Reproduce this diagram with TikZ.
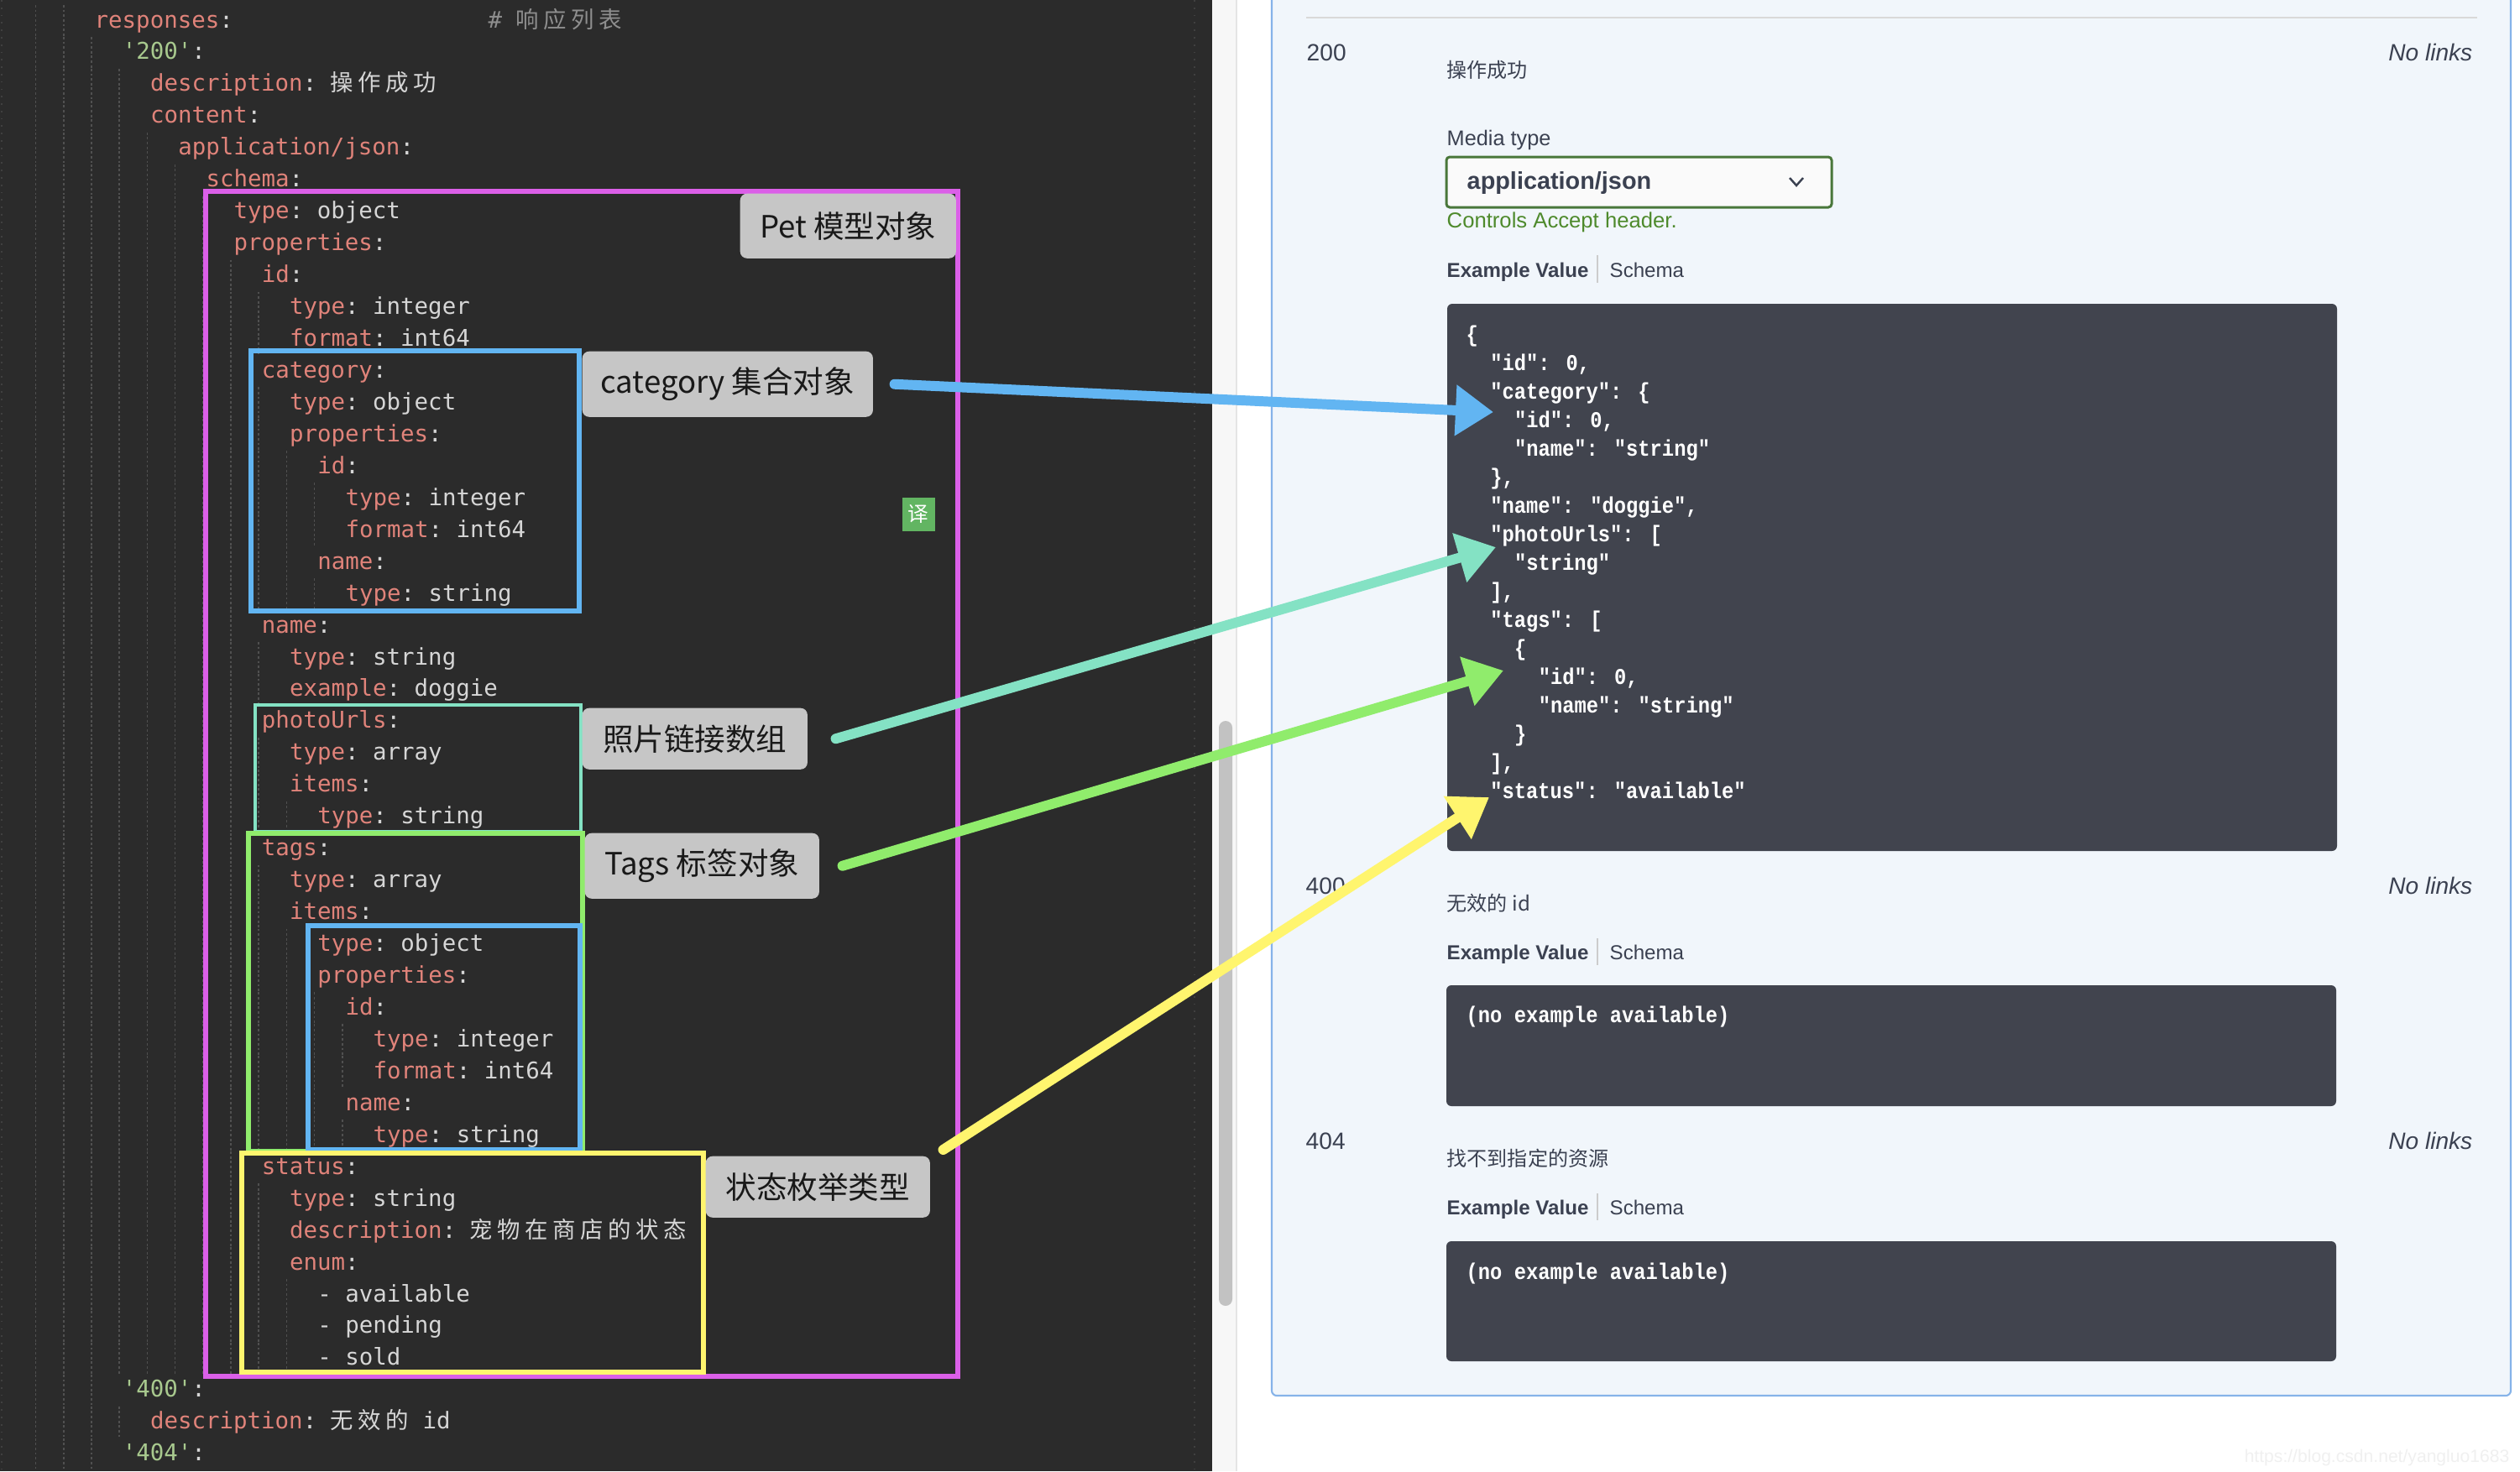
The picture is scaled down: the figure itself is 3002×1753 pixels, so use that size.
\documentclass[tikz,border=0pt]{standalone}
\usepackage{fontspec}
\setmonofont{DejaVu Sans Mono}
\newfontfamily\cjk{Noto Sans CJK SC}
\newfontfamily\cjkcode[LetterSpace=20]{Noto Sans CJK SC}
\newfontfamily\uifont{Liberation Sans}
\newfontfamily\jsonfont[FakeStretch=0.88]{Liberation Mono}
\usetikzlibrary{arrows.meta}

\definecolor{codebg}{HTML}{2B2B2B}
\definecolor{codekey}{HTML}{E0837A}
\definecolor{codeval}{HTML}{D6D6D6}
\definecolor{codestr}{HTML}{A8C98E}
\definecolor{codecmt}{HTML}{8E8E8E}
\definecolor{codeguide}{HTML}{505050}
\definecolor{petpink}{HTML}{DB5FE8}
\definecolor{catblue}{HTML}{62B5F2}
\definecolor{photomint}{HTML}{84E2C4}
\definecolor{tagsgreen}{HTML}{90EC6C}
\definecolor{statusyellow}{HTML}{FFF56E}
\definecolor{notefill}{HTML}{C6C6C6}
\definecolor{panelbg}{HTML}{F1F6FB}
\definecolor{panelline}{HTML}{86B3E9}
\definecolor{uitext}{HTML}{3B4151}
\definecolor{jsonbg}{HTML}{41444E}
\definecolor{dropgreen}{HTML}{49773A}
\definecolor{acceptgreen}{HTML}{4E8A2C}
\definecolor{fanyigreen}{HTML}{62B562}

\newcommand\yk[1]{\textcolor{codekey}{#1}:}

\begin{document}
\begin{tikzpicture}[
 x=0.01cm, y=-0.01cm,
 code/.style={font=\ttfamily\fontsize{7.8pt}{9pt}\selectfont,text=codeval,inner sep=0pt,anchor=base west},
 guide/.style={draw=codeguide,line width=0.4pt,dash pattern=on 0.8pt off 0.8pt},
 hilite/.style={line width=1.7pt},
 note/.style={fill=notefill,rounded corners=0.08cm,text=black!90,font=\cjk\fontsize{10.4pt}{12pt}\selectfont,inner sep=0pt,anchor=north west},
 ui/.style={font={\uifont\fontsize{#1}{10pt}\selectfont},text=uitext,inner sep=0pt,anchor=base west},
 ui/.default=7.2pt,
 cjkui/.style={font={\cjk\fontsize{6.85pt}{8pt}\selectfont},text=uitext,inner sep=0pt,anchor=base west},
 json/.style={font=\jsonfont\bfseries\fontsize{7.68pt}{9pt}\selectfont,text=white,inner sep=0pt,anchor=base west},
 jsonbox/.style={fill=jsonbg,rounded corners=0.06cm},
 pointer/.style={line width=3.4pt,line cap=round,-{Triangle[length=12.8pt,width=16.5pt]}}
]
\useasboundingbox (0,0) rectangle (3002,1753);
\clip (0,0) rectangle (3002,1753);
\fill[white] (0,0) rectangle (3002,1753);

% editor
\fill[codebg] (0,0) rectangle (1444,1753);
\draw[black!75,dotted,line width=0.5pt] (2,0) -- (2,1753);
\draw[black!75,dotted,line width=0.5pt] (1423,0) -- (1423,1753);
\foreach \n/\lv/\txt in {
 0/0/{\yk{responses}},
 1/1/{\textcolor{codestr}{'200'}:},
 2/2/{\yk{description} {\cjkcode 操作成功}},
 3/2/{\yk{content}},
 4/3/{\yk{application/json}},
 5/4/{\yk{schema}},
 6/5/{\yk{type} object},
 7/5/{\yk{properties}},
 8/6/{\yk{id}},
 9/7/{\yk{type} integer},
 10/7/{\yk{format} int64},
 11/6/{\yk{category}},
 12/7/{\yk{type} object},
 13/7/{\yk{properties}},
 14/8/{\yk{id}},
 15/9/{\yk{type} integer},
 16/9/{\yk{format} int64},
 17/8/{\yk{name}},
 18/9/{\yk{type} string},
 19/6/{\yk{name}},
 20/7/{\yk{type} string},
 21/7/{\yk{example} doggie},
 22/6/{\yk{photoUrls}},
 23/7/{\yk{type} array},
 24/7/{\yk{items}},
 25/8/{\yk{type} string},
 26/6/{\yk{tags}},
 27/7/{\yk{type} array},
 28/7/{\yk{items}},
 29/8/{\yk{type} object},
 30/8/{\yk{properties}},
 31/9/{\yk{id}},
 32/10/{\yk{type} integer},
 33/10/{\yk{format} int64},
 34/9/{\yk{name}},
 35/10/{\yk{type} string},
 36/6/{\yk{status}},
 37/7/{\yk{type} string},
 38/7/{\yk{description} {\cjkcode 宠物在商店的状态}},
 39/7/{\yk{enum}},
 40/8/{- available},
 41/8/{- pending},
 42/8/{- sold},
 43/1/{\textcolor{codestr}{'400'}:},
 44/2/{\yk{description} {\cjkcode 无效的}\ id},
 45/1/{\textcolor{codestr}{'404'}:}}
{
 \node (code-\n) [code] at ({112+33.2*\lv},{33+37.95*\n}) {\txt};
 \pgfmathtruncatemacro\last{\lv-1}
 \foreach \k in {-2,...,\last}
  \draw[guide] ({109+33.2*\k},{6+37.95*\n}) -- ++(0,38);
}
\node (code-comment) [code,text=codecmt] at (581,33) {\# {\cjkcode 响应列表}};
\node (fanyi-icon) [fill=fanyigreen,text=white,font=\cjk\fontsize{7pt}{8pt}\selectfont,minimum width=0.39cm,minimum height=0.4cm,inner sep=0pt,anchor=north west] at (1074,592) {译};

% highlight frames
\draw[hilite,petpink] (245,228) rectangle (1141,1640);
\draw[hilite,catblue] (299,418) rectangle (690,728);
\draw[line width=1.1pt,photomint] (304,840) rectangle (692,991);
\draw[hilite,tagsgreen] (296,993) rectangle (694,1372);
\draw[hilite,catblue] (367,1103) rectangle (691,1370);
\draw[hilite,statusyellow] (288,1374) rectangle (838,1635);

\node (pet-label) [note,minimum width=2.57cm,minimum height=0.77cm] at (881,230) {Pet 模型对象};
\node (category-label) [note,minimum width=3.46cm,minimum height=0.78cm] at (693,418) {category 集合对象};
\node (photo-label) [note,minimum width=2.68cm,minimum height=0.73cm] at (693,843) {照片链接数组};
\node (tags-label) [note,minimum width=2.79cm,minimum height=0.78cm] at (696,992) {Tags 标签对象};
\node (status-label) [note,minimum width=2.67cm,minimum height=0.73cm] at (840,1377) {状态枚举类型};

% scroll bar
\fill[black!3] (1444,0) rectangle (1473,1753);
\draw[black!10,line width=0.6pt] (1473,0) -- (1473,1753);
\fill[black!24,rounded corners=0.08cm] (1452,859) rectangle (1468,1556);

% responses panel
\draw[fill=panelbg,draw=panelline,line width=0.6pt,rounded corners=0.06cm] (1515,-40) rectangle (2991,1663);
\draw[black!15,line width=0.6pt] (1556,21) -- (2951,21);

\node (ok-code) [ui=8pt] at (1556,72) {200};
\node (ok-links) [ui=8pt,anchor=base east] at (2946,72) {\itshape No links};
\node (ok-desc) [cjkui] at (1723,92) {操作成功};
\node (media-type) [ui] at (1723,173) {Media type};
\draw[dropgreen,fill=black!2,line width=0.85pt,rounded corners=0.04cm] (1723,187) rectangle (2182,247);
\node (media-select) [ui=8.2pt] at (1747,225) {\bfseries application/json};
\draw[uitext,line width=0.7pt] (2132,212) -- (2140,221) -- (2148,212);
\node (accept-note) [ui=7.3pt,text=acceptgreen] at (1723,271) {Controls Accept header.};
\node (ok-example) [ui=6.85pt] at (1723,330) {\bfseries Example Value};
\draw[black!20,line width=0.4pt] (1903,304) -- (1903,337);
\node (ok-schema) [ui=6.85pt] at (1917,330) {Schema};

\fill[jsonbox] (1724,362) rectangle (2784,1014);
\foreach \k/\lv/\txt in {
 0/0/{\{},
 1/1/{"id": 0,},
 2/1/{"category": \{},
 3/2/{"id": 0,},
 4/2/{"name": "string"},
 5/1/{\},},
 6/1/{"name": "doggie",},
 7/1/{"photoUrls": [},
 8/2/{"string"},
 9/1/{],},
 10/1/{"tags": [},
 11/2/{\{},
 12/3/{"id": 0,},
 13/3/{"name": "string"},
 14/2/{\}},
 15/1/{],},
 16/1/{"status": "available"}}
 \node (json-\k) [json] at ({1746+28.7*\lv},{407+34*\k}) {\txt};

\node (bad-code) [ui=8pt] at (1555,1065) {400};
\node (bad-links) [ui=8pt,anchor=base east] at (2946,1065) {\itshape No links};
\node (bad-desc) [cjkui] at (1723,1085) {无效的 id};
\node (bad-example) [ui=6.85pt] at (1723,1143) {\bfseries Example Value};
\draw[black!20,line width=0.4pt] (1903,1118) -- (1903,1150);
\node (bad-schema) [ui=6.85pt] at (1917,1143) {Schema};
\fill[jsonbox] (1723,1174) rectangle (2783,1318);
\node (bad-json) [json] at (1746,1218) {(no example available)};

\node (lost-code) [ui=8pt] at (1555,1369) {404};
\node (lost-links) [ui=8pt,anchor=base east] at (2946,1369) {\itshape No links};
\node (lost-desc) [cjkui] at (1723,1389) {找不到指定的资源};
\node (lost-example) [ui=6.85pt] at (1723,1447) {\bfseries Example Value};
\draw[black!20,line width=0.4pt] (1903,1422) -- (1903,1454);
\node (lost-schema) [ui=6.85pt] at (1917,1447) {Schema};
\fill[jsonbox] (1723,1479) rectangle (2783,1622);
\node (lost-json) [json] at (1746,1524) {(no example available)};

\node (watermark) [ui=6pt,text=black!6,anchor=base east] at (2990,1742) {https://blog.csdn.net/yangluo1683};

% arrows into the example value
\coordinate (cat-tip) at (1779,491);
\coordinate (photo-tip) at (1782,652);
\coordinate (tags-tip) at (1791,799);
\coordinate (status-tip) at (1774,950);
\draw[pointer,catblue] ([xshift=0.25cm]category-label.east) -- (cat-tip);
\draw[pointer,photomint] ([xshift=0.33cm]photo-label.east) -- (photo-tip);
\draw[pointer,tagsgreen] ([xshift=0.27cm]tags-label.east) -- (tags-tip);
\draw[pointer,statusyellow] ([xshift=0.15cm,yshift=0.07cm]status-label.north east) -- (status-tip);
\end{tikzpicture}
\end{document}
